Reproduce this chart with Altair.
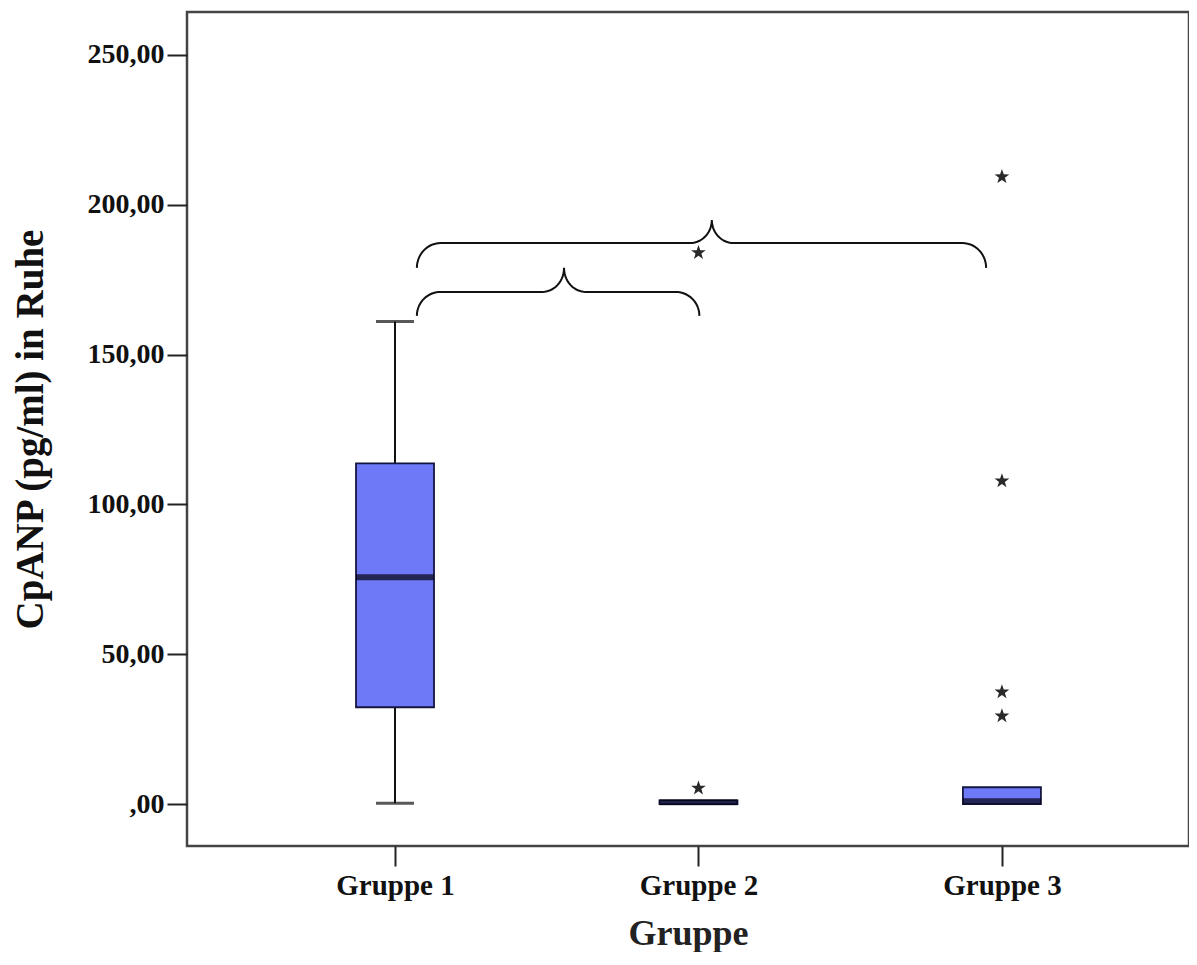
import math
import altair as alt
import pandas as pd

# ---------------- data ----------------
groups = [0, 1, 2]                       # Gruppe 1, 2, 3 positions
group_names = ["Gruppe 1", "Gruppe 2", "Gruppe 3"]
whisker_low = [0.3, 0.0, 0.0]
q1 = [32.3, 0.0, 0.0]
median = [75.7, 0.6, 0.9]
q3 = [113.7, 1.2, 5.6]
whisker_high = [161.0, 1.2, 5.6]

outlier_group = [1, 1, 2, 2, 2, 2]
outlier_value = [184.0, 5.3, 209.3, 107.8, 37.4, 29.4]

# significance braces (x in group units, y in data units)
brace_x0 = [0.072, 0.072]
brace_x1 = [1.948, 1.003]
brace_tip_x = [1.044, 0.557]
brace_end_y = [178.9, 162.9]
brace_line_y = [187.2, 170.9]
brace_tip_y = [194.9, 178.9]

y_ticks = [0, 50, 100, 150, 200, 250]

# ---------------- layout ----------------
W, H = 1002, 834
X_DOM = [-0.669, 2.600]
Y_DOM = [-14.0, 264.3]
px_x = (X_DOM[1] - X_DOM[0]) / W   # data units per pixel, x
SERIF = "Liberation Serif"

stats = pd.DataFrame({
    "g": groups, "lo": whisker_low, "q1": q1, "med": median,
    "q3": q3, "hi": whisker_high,
})
outliers = pd.DataFrame({"g": outlier_group, "v": outlier_value})

# brace paths
rows = []
n_arc = 14
for b in range(len(brace_x0)):
    x0, x1, xt = brace_x0[b], brace_x1[b], brace_tip_x[b]
    ye, yl, yt = brace_end_y[b], brace_line_y[b], brace_tip_y[b]
    rx = 24 * px_x
    tx = 22 * px_x
    ry = yl - ye
    ty = yt - yl
    pts = []
    for i in range(n_arc + 1):  # left corner
        t = math.radians(180 - 90 * i / n_arc)
        pts.append((x0 + rx + rx * math.cos(t), ye + ry * math.sin(t)))
    for i in range(n_arc + 1):  # tip left
        t = math.radians(270 + 90 * i / n_arc)
        pts.append((xt - tx + tx * math.cos(t), yt + ty * math.sin(t)))
    for i in range(n_arc + 1):  # tip right
        t = math.radians(180 + 90 * i / n_arc)
        pts.append((xt + tx + tx * math.cos(t), yt + ty * math.sin(t)))
    for i in range(n_arc + 1):  # right corner
        t = math.radians(90 - 90 * i / n_arc)
        pts.append((x1 - rx + rx * math.cos(t), ye + ry * math.sin(t)))
    for k, (x, y) in enumerate(pts):
        rows.append({"brace": b, "o": k, "x": x, "y": y})
braces = pd.DataFrame(rows)

# star shape path
star_pts = []
for k in range(10):
    a = math.radians(-90 + 36 * k)
    r = 1.0 if k % 2 == 0 else 0.4
    star_pts.append(f"{r * math.cos(a):.3f},{r * math.sin(a):.3f}")
STAR = "M" + "L".join(star_pts) + "Z"

xscale = alt.Scale(domain=X_DOM, nice=False, zero=False)
yscale = alt.Scale(domain=Y_DOM, nice=False, zero=False)

x_axis = alt.Axis(
    values=groups, labelExpr="'Gruppe ' + (datum.value + 1)", title="Gruppe",
    domain=False, grid=False, tickSize=20, tickWidth=2, tickColor="#222",
    labelFont=SERIF, labelFontWeight="bold", labelFontSize=29, labelColor="#111",
    labelPadding=5, titleFont=SERIF, titleFontWeight="bold", titleFontSize=36,
    titleColor="#222", titleY=87, titleBaseline="middle",
)
y_axis = alt.Axis(
    values=y_ticks,
    labelExpr="datum.value == 0 ? ',00' : replace(format(datum.value, '.2f'), '.', ',')",
    title="CpANP (pg/ml) in Ruhe",
    domain=False, grid=False, tickSize=20, tickWidth=2, tickColor="#222",
    labelFont=SERIF, labelFontWeight="bold", labelFontSize=28, labelColor="#111",
    labelPadding=3, titleFont=SERIF, titleFontWeight="bold", titleFontSize=39,
    titleColor="#111", titleX=-157, titleY=417, titleAlign="center",
    titleBaseline="middle", titleAngle=270,
)

base = alt.Chart(stats)

whisk_lo = base.mark_rule(color="#111", strokeWidth=2).encode(
    x=alt.X("g:Q", scale=xscale, axis=x_axis),
    y=alt.Y("lo:Q", scale=yscale, axis=y_axis),
    y2="q1:Q",
)
whisk_hi = base.mark_rule(color="#111", strokeWidth=2).encode(
    x=alt.X("g:Q", scale=xscale), y=alt.Y("q3:Q", scale=yscale), y2="hi:Q",
)
cap_lo = base.transform_filter("datum.lo < datum.q1").mark_tick(
    orient="horizontal", size=38, thickness=3, color="#111"
).encode(x=alt.X("g:Q", scale=xscale), y=alt.Y("lo:Q", scale=yscale))
cap_hi = base.transform_filter("datum.hi > datum.q3").mark_tick(
    orient="horizontal", size=38, thickness=3, color="#111"
).encode(x=alt.X("g:Q", scale=xscale), y=alt.Y("hi:Q", scale=yscale))
box = base.mark_bar(size=78, color="#6E79F7", stroke="#15163f", strokeWidth=1.8).encode(
    x=alt.X("g:Q", scale=xscale), y=alt.Y("q1:Q", scale=yscale), y2="q3:Q",
)
med = base.mark_tick(orient="horizontal", size=78, thickness=6, color="#03030f").encode(
    x=alt.X("g:Q", scale=xscale), y=alt.Y("med:Q", scale=yscale),
)
stars = alt.Chart(outliers).mark_point(
    shape=STAR, filled=True, size=240, color="#2a2a2a", opacity=1
).encode(x=alt.X("g:Q", scale=xscale), y=alt.Y("v:Q", scale=yscale))
brace_lines = alt.Chart(braces).mark_line(color="#111", strokeWidth=2).encode(
    x=alt.X("x:Q", scale=xscale), y=alt.Y("y:Q", scale=yscale),
    detail="brace:N", order="o:Q",
)

chart = alt.layer(
    whisk_lo, whisk_hi, cap_lo, cap_hi, box, med, stars, brace_lines
).properties(
    width=W, height=H,
    autosize=alt.AutoSizeParams(type="none"),
    padding={"left": 179, "top": 4, "right": 0, "bottom": 106},
    background="white",
).configure_view(stroke="#444", strokeWidth=2.5)

chart.save("out.html", embed_options={"renderer": "svg", "actions": False})
